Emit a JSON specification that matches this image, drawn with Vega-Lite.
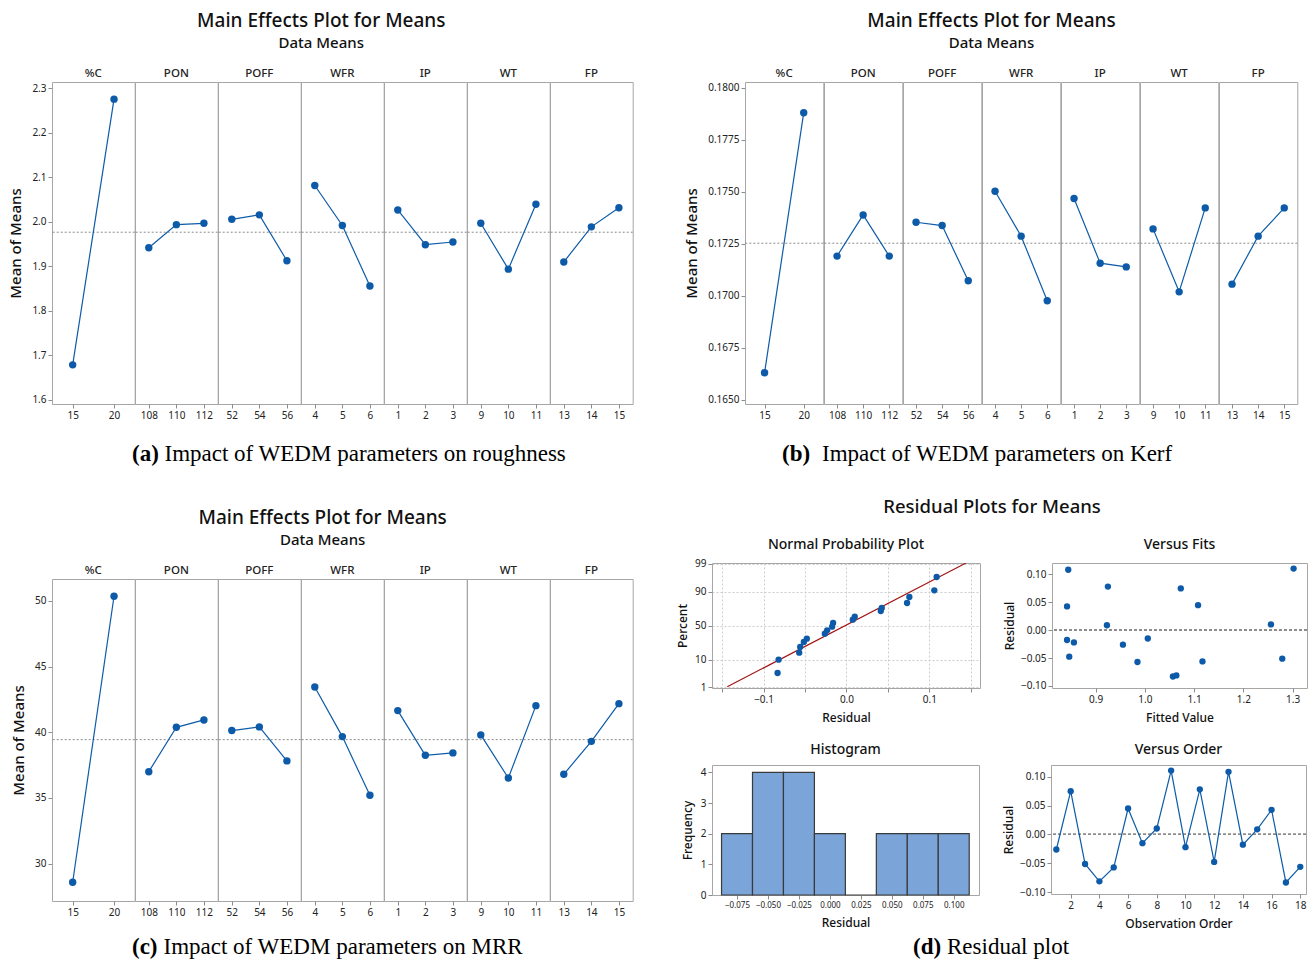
{
  "$schema": "https://vega.github.io/schema/vega-lite/v6.json",
  "background": "white",
  "padding": {"left": 8, "top": 12, "right": 2, "bottom": 2},
  "config": {
    "font": "Noto Sans",
    "view": {"stroke": "#a6a6a6", "strokeWidth": 1},
    "axis": {"labelFont": "Noto Sans", "titleFont": "Noto Sans", "labelColor": "#222222", "titleColor": "#111111", "tickColor": "#8c8c8c", "domain": false, "grid": false, "labelFontSize": 10, "titleFontSize": 12, "titleFontWeight": 500, "tickSize": 4, "labelPadding": 2, "tickCount": 20},
    "axisX": {"titlePadding": 8},
    "title": {"font": "Noto Sans", "fontWeight": 500, "color": "#111111", "subtitleFont": "Noto Sans", "subtitleColor": "#111111", "subtitleFontWeight": 500}
  },
  "datasets": {
    "factors": [{"factor": "%C"}, {"factor": "PON"}, {"factor": "POFF"}, {"factor": "WFR"}, {"factor": "IP"}, {"factor": "WT"}, {"factor": "FP"}],
    "rough": [
      {"factor": "%C", "level": 15, "mean": 1.678, "grand": 1.976},
      {"factor": "%C", "level": 20, "mean": 2.275, "grand": 1.976},
      {"factor": "PON", "level": 108, "mean": 1.941, "grand": 1.976},
      {"factor": "PON", "level": 110, "mean": 1.993, "grand": 1.976},
      {"factor": "PON", "level": 112, "mean": 1.996, "grand": 1.976},
      {"factor": "POFF", "level": 52, "mean": 2.005, "grand": 1.976},
      {"factor": "POFF", "level": 54, "mean": 2.015, "grand": 1.976},
      {"factor": "POFF", "level": 56, "mean": 1.912, "grand": 1.976},
      {"factor": "WFR", "level": 4, "mean": 2.081, "grand": 1.976},
      {"factor": "WFR", "level": 5, "mean": 1.991, "grand": 1.976},
      {"factor": "WFR", "level": 6, "mean": 1.855, "grand": 1.976},
      {"factor": "IP", "level": 1, "mean": 2.026, "grand": 1.976},
      {"factor": "IP", "level": 2, "mean": 1.948, "grand": 1.976},
      {"factor": "IP", "level": 3, "mean": 1.954, "grand": 1.976},
      {"factor": "WT", "level": 9, "mean": 1.996, "grand": 1.976},
      {"factor": "WT", "level": 10, "mean": 1.893, "grand": 1.976},
      {"factor": "WT", "level": 11, "mean": 2.039, "grand": 1.976},
      {"factor": "FP", "level": 13, "mean": 1.909, "grand": 1.976},
      {"factor": "FP", "level": 14, "mean": 1.988, "grand": 1.976},
      {"factor": "FP", "level": 15, "mean": 2.031, "grand": 1.976}
    ],
    "kerf": [
      {"factor": "%C", "level": 15, "mean": 0.16630, "grand": 0.17253},
      {"factor": "%C", "level": 20, "mean": 0.17881, "grand": 0.17253},
      {"factor": "PON", "level": 108, "mean": 0.17191, "grand": 0.17253},
      {"factor": "PON", "level": 110, "mean": 0.17389, "grand": 0.17253},
      {"factor": "PON", "level": 112, "mean": 0.17191, "grand": 0.17253},
      {"factor": "POFF", "level": 52, "mean": 0.17354, "grand": 0.17253},
      {"factor": "POFF", "level": 54, "mean": 0.17338, "grand": 0.17253},
      {"factor": "POFF", "level": 56, "mean": 0.17072, "grand": 0.17253},
      {"factor": "WFR", "level": 4, "mean": 0.17503, "grand": 0.17253},
      {"factor": "WFR", "level": 5, "mean": 0.17287, "grand": 0.17253},
      {"factor": "WFR", "level": 6, "mean": 0.16976, "grand": 0.17253},
      {"factor": "IP", "level": 1, "mean": 0.17468, "grand": 0.17253},
      {"factor": "IP", "level": 2, "mean": 0.17157, "grand": 0.17253},
      {"factor": "IP", "level": 3, "mean": 0.17139, "grand": 0.17253},
      {"factor": "WT", "level": 9, "mean": 0.17322, "grand": 0.17253},
      {"factor": "WT", "level": 10, "mean": 0.17019, "grand": 0.17253},
      {"factor": "WT", "level": 11, "mean": 0.17423, "grand": 0.17253},
      {"factor": "FP", "level": 13, "mean": 0.17056, "grand": 0.17253},
      {"factor": "FP", "level": 14, "mean": 0.17287, "grand": 0.17253},
      {"factor": "FP", "level": 15, "mean": 0.17423, "grand": 0.17253}
    ],
    "mrr": [
      {"factor": "%C", "level": 15, "mean": 28.58, "grand": 39.44},
      {"factor": "%C", "level": 20, "mean": 50.36, "grand": 39.44},
      {"factor": "PON", "level": 108, "mean": 37.0, "grand": 39.44},
      {"factor": "PON", "level": 110, "mean": 40.38, "grand": 39.44},
      {"factor": "PON", "level": 112, "mean": 40.94, "grand": 39.44},
      {"factor": "POFF", "level": 52, "mean": 40.13, "grand": 39.44},
      {"factor": "POFF", "level": 54, "mean": 40.41, "grand": 39.44},
      {"factor": "POFF", "level": 56, "mean": 37.82, "grand": 39.44},
      {"factor": "WFR", "level": 4, "mean": 43.45, "grand": 39.44},
      {"factor": "WFR", "level": 5, "mean": 39.67, "grand": 39.44},
      {"factor": "WFR", "level": 6, "mean": 35.2, "grand": 39.44},
      {"factor": "IP", "level": 1, "mean": 41.65, "grand": 39.44},
      {"factor": "IP", "level": 2, "mean": 38.25, "grand": 39.44},
      {"factor": "IP", "level": 3, "mean": 38.43, "grand": 39.44},
      {"factor": "WT", "level": 9, "mean": 39.8, "grand": 39.44},
      {"factor": "WT", "level": 10, "mean": 36.52, "grand": 39.44},
      {"factor": "WT", "level": 11, "mean": 42.03, "grand": 39.44},
      {"factor": "FP", "level": 13, "mean": 36.8, "grand": 39.44},
      {"factor": "FP", "level": 14, "mean": 39.31, "grand": 39.44},
      {"factor": "FP", "level": 15, "mean": 42.18, "grand": 39.44}
    ],
    "resid": [
      {"obs": 1, "fit": 0.9555, "resid": -0.026},
      {"obs": 2, "fit": 1.073, "resid": 0.0748},
      {"obs": 3, "fit": 1.279, "resid": -0.051},
      {"obs": 4, "fit": 1.064, "resid": -0.081},
      {"obs": 5, "fit": 0.985, "resid": -0.057},
      {"obs": 6, "fit": 1.108, "resid": 0.0448},
      {"obs": 7, "fit": 1.006, "resid": -0.015},
      {"obs": 8, "fit": 1.256, "resid": 0.0103},
      {"obs": 9, "fit": 1.302, "resid": 0.1103},
      {"obs": 10, "fit": 0.856, "resid": -0.022},
      {"obs": 11, "fit": 0.925, "resid": 0.078},
      {"obs": 12, "fit": 0.8465, "resid": -0.0475},
      {"obs": 13, "fit": 0.8445, "resid": 0.1082},
      {"obs": 14, "fit": 0.842, "resid": -0.0176},
      {"obs": 15, "fit": 0.923, "resid": 0.0088},
      {"obs": 16, "fit": 0.842, "resid": 0.0425},
      {"obs": 17, "fit": 1.057, "resid": -0.083},
      {"obs": 18, "fit": 1.117, "resid": -0.056}
    ],
    "npp": [
      {"resid": -0.0831, "z": -1.784}, {"resid": -0.0819, "z": -1.281}, {"resid": -0.057, "z": -1.018},
      {"resid": -0.0558, "z": -0.804}, {"resid": -0.0514, "z": -0.616}, {"resid": -0.0478, "z": -0.49},
      {"resid": -0.0261, "z": -0.302}, {"resid": -0.0233, "z": -0.176}, {"resid": -0.0173, "z": -0.038},
      {"resid": -0.0161, "z": 0.1}, {"resid": 0.0076, "z": 0.226}, {"resid": 0.01, "z": 0.339},
      {"resid": 0.0414, "z": 0.553}, {"resid": 0.0426, "z": 0.666}, {"resid": 0.0731, "z": 0.854},
      {"resid": 0.0759, "z": 1.08}, {"resid": 0.106, "z": 1.332}, {"resid": 0.1088, "z": 1.834}
    ],
    "nppline": [{"resid": -0.1438, "z": -2.3}, {"resid": 0.1442, "z": 2.36}],
    "hist": [
      {"lo": -0.0875, "hi": -0.0625, "count": 2},
      {"lo": -0.0625, "hi": -0.0375, "count": 4},
      {"lo": -0.0375, "hi": -0.0125, "count": 4},
      {"lo": -0.0125, "hi": 0.0125, "count": 2},
      {"lo": 0.0125, "hi": 0.0375, "count": 0},
      {"lo": 0.0375, "hi": 0.0625, "count": 2},
      {"lo": 0.0625, "hi": 0.0875, "count": 2},
      {"lo": 0.0875, "hi": 0.1125, "count": 2}
    ]
  },
  "vconcat": [
    {
      "hconcat": [
        {
          "title": {"text": "Main Effects Plot for Means", "subtitle": "Data Means", "fontSize": 19, "subtitleFontSize": 15, "frame": "bounds", "anchor": "middle", "offset": 15, "subtitlePadding": 5},
          "vconcat": [
            {
              "vconcat": [
                {
                  "data": {"name": "factors"},
                  "facet": {"column": {"field": "factor", "type": "nominal", "sort": ["%C", "PON", "POFF", "WFR", "IP", "WT", "FP"], "header": null}},
                  "spacing": 0, "bounds": "flush",
                  "spec": {"width": 82.7, "height": 15, "mark": {"type": "text", "fontSize": 11.5, "fontWeight": 500, "color": "#222222"}, "encoding": {"text": {"field": "factor", "type": "nominal"}}}
                },
                {
                  "data": {"name": "rough"},
                  "facet": {"column": {"field": "factor", "type": "nominal", "sort": ["%C", "PON", "POFF", "WFR", "IP", "WT", "FP"], "header": null}},
                  "spacing": 0, "bounds": "flush",
                  "resolve": {"scale": {"x": "independent"}},
                  "spec": {
                    "width": 82.7, "height": 322,
                    "layer": [
                      {"mark": {"type": "rule", "color": "#8c8c8c", "strokeDash": [2, 2], "strokeWidth": 1}, "encoding": {"y": {"field": "grand", "aggregate": "max", "type": "quantitative", "title": "Mean of Means"}}},
                      {"mark": {"type": "line", "color": "#0d5ba8", "strokeWidth": 1.2, "point": {"filled": true, "size": 55, "color": "#0d5ba8"}},
                       "encoding": {
                         "x": {"field": "level", "type": "ordinal", "scale": {"type": "point", "padding": 0.5}, "axis": {"title": null, "labelAngle": 0}},
                         "y": {"field": "mean", "type": "quantitative", "title": "Mean of Means", "scale": {"domain": [1.59, 2.3135], "nice": false, "zero": false}, "axis": {"values": [1.6, 1.7, 1.8, 1.9, 2.0, 2.1, 2.2, 2.3], "format": ".1f", "titleFontSize": 15, "titlePadding": 8}}
                       }}
                    ]
                  }
                }
              ],
              "spacing": 0
            },
            {
              "width": 579, "height": 30, "view": {"stroke": null},
              "data": {"values": [{"tag": "(a)", "text": "Impact of WEDM parameters on roughness"}]},
              "layer": [
                {"mark": {"type": "text", "font": "Liberation Serif", "fontSize": 23, "fontWeight": "bold", "align": "left", "dx": -209.5, "color": "#000000"}, "encoding": {"text": {"field": "tag"}}},
                {"mark": {"type": "text", "font": "Liberation Serif", "fontSize": 23, "align": "left", "dx": -177, "color": "#000000"}, "encoding": {"text": {"field": "text"}}}
              ]
            }
          ],
          "spacing": 18
        },
        {
          "title": {"text": "Main Effects Plot for Means", "subtitle": "Data Means", "fontSize": 19, "subtitleFontSize": 15, "frame": "bounds", "anchor": "middle", "offset": 15, "subtitlePadding": 5},
          "vconcat": [
            {
              "vconcat": [
                {
                  "data": {"name": "factors"},
                  "facet": {"column": {"field": "factor", "type": "nominal", "sort": ["%C", "PON", "POFF", "WFR", "IP", "WT", "FP"], "header": null}},
                  "spacing": 0, "bounds": "flush",
                  "spec": {"width": 78.3, "height": 15, "mark": {"type": "text", "fontSize": 11.5, "fontWeight": 500, "color": "#222222"}, "encoding": {"text": {"field": "factor", "type": "nominal"}}}
                },
                {
                  "data": {"name": "kerf"},
                  "facet": {"column": {"field": "factor", "type": "nominal", "sort": ["%C", "PON", "POFF", "WFR", "IP", "WT", "FP"], "header": null}},
                  "spacing": 0, "bounds": "flush",
                  "resolve": {"scale": {"x": "independent"}},
                  "spec": {
                    "width": 78.3, "height": 322,
                    "layer": [
                      {"mark": {"type": "rule", "color": "#8c8c8c", "strokeDash": [2, 2], "strokeWidth": 1}, "encoding": {"y": {"field": "grand", "aggregate": "max", "type": "quantitative", "title": "Mean of Means"}}},
                      {"mark": {"type": "line", "color": "#0d5ba8", "strokeWidth": 1.2, "point": {"filled": true, "size": 55, "color": "#0d5ba8"}},
                       "encoding": {
                         "x": {"field": "level", "type": "ordinal", "scale": {"type": "point", "padding": 0.5}, "axis": {"title": null, "labelAngle": 0}},
                         "y": {"field": "mean", "type": "quantitative", "title": "Mean of Means", "scale": {"domain": [0.164793, 0.180288], "nice": false, "zero": false}, "axis": {"values": [0.165, 0.1675, 0.17, 0.1725, 0.175, 0.1775, 0.18], "format": ".4f", "titleFontSize": 15, "titlePadding": 8}}
                       }}
                    ]
                  }
                }
              ],
              "spacing": 0
            },
            {
              "width": 548, "height": 30, "view": {"stroke": null},
              "data": {"values": [{"tag": "(b)", "text": "Impact of WEDM parameters on Kerf"}]},
              "layer": [
                {"mark": {"type": "text", "font": "Liberation Serif", "fontSize": 23, "fontWeight": "bold", "align": "left", "dx": -237, "color": "#000000"}, "encoding": {"text": {"field": "tag"}}},
                {"mark": {"type": "text", "font": "Liberation Serif", "fontSize": 23, "align": "left", "dx": -197, "color": "#000000"}, "encoding": {"text": {"field": "text"}}}
              ]
            }
          ],
          "spacing": 18
        }
      ],
      "spacing": 50
    },
    {
      "hconcat": [
        {
          "title": {"text": "Main Effects Plot for Means", "subtitle": "Data Means", "fontSize": 19, "subtitleFontSize": 15, "frame": "bounds", "anchor": "middle", "offset": 15, "subtitlePadding": 5},
          "vconcat": [
            {
              "vconcat": [
                {
                  "data": {"name": "factors"},
                  "facet": {"column": {"field": "factor", "type": "nominal", "sort": ["%C", "PON", "POFF", "WFR", "IP", "WT", "FP"], "header": null}},
                  "spacing": 0, "bounds": "flush",
                  "spec": {"width": 82.7, "height": 15, "mark": {"type": "text", "fontSize": 11.5, "fontWeight": 500, "color": "#222222"}, "encoding": {"text": {"field": "factor", "type": "nominal"}}}
                },
                {
                  "data": {"name": "mrr"},
                  "facet": {"column": {"field": "factor", "type": "nominal", "sort": ["%C", "PON", "POFF", "WFR", "IP", "WT", "FP"], "header": null}},
                  "spacing": 0, "bounds": "flush",
                  "resolve": {"scale": {"x": "independent"}},
                  "spec": {
                    "width": 82.7, "height": 322,
                    "layer": [
                      {"mark": {"type": "rule", "color": "#8c8c8c", "strokeDash": [2, 2], "strokeWidth": 1}, "encoding": {"y": {"field": "grand", "aggregate": "max", "type": "quantitative", "title": "Mean of Means"}}},
                      {"mark": {"type": "line", "color": "#0d5ba8", "strokeWidth": 1.2, "point": {"filled": true, "size": 55, "color": "#0d5ba8"}},
                       "encoding": {
                         "x": {"field": "level", "type": "ordinal", "scale": {"type": "point", "padding": 0.5}, "axis": {"title": null, "labelAngle": 0}},
                         "y": {"field": "mean", "type": "quantitative", "title": "Mean of Means", "scale": {"domain": [27.15, 51.675], "nice": false, "zero": false}, "axis": {"values": [30, 35, 40, 45, 50], "titleFontSize": 15, "titlePadding": 8}}
                       }}
                    ]
                  }
                }
              ],
              "spacing": 0
            },
            {
              "width": 579, "height": 30, "view": {"stroke": null},
              "data": {"values": [{"tag": "(c)", "text": "Impact of WEDM parameters on MRR"}]},
              "layer": [
                {"mark": {"type": "text", "font": "Liberation Serif", "fontSize": 23, "fontWeight": "bold", "align": "left", "dx": -209.5, "color": "#000000"}, "encoding": {"text": {"field": "tag"}}},
                {"mark": {"type": "text", "font": "Liberation Serif", "fontSize": 23, "align": "left", "dx": -178, "color": "#000000"}, "encoding": {"text": {"field": "text"}}}
              ]
            }
          ],
          "spacing": 14
        },
        {
          "title": {"text": "Residual Plots for Means", "fontSize": 18.5, "frame": "bounds", "anchor": "middle", "offset": 21},
          "vconcat": [
            {
              "vconcat": [
                {
                  "hconcat": [
                    {
                      "title": {"text": "Normal Probability Plot", "fontSize": 14, "offset": 7},
                      "width": 268, "height": 125,
                      "layer": [
                        {"data": {"name": "nppline"}, "mark": {"type": "line", "color": "#a31515", "strokeWidth": 1.2, "clip": true},
                         "encoding": {
                           "x": {"field": "resid", "type": "quantitative", "title": "Residual", "scale": {"domain": [-0.1622, 0.1611], "nice": false, "zero": false}, "axis": {"values": [-0.15, -0.1, -0.05, 0, 0.05, 0.1, 0.15], "tickCount": 20, "grid": true, "gridDash": [2, 2], "gridColor": "#cccccc", "labelExpr": "abs(datum.value) > 0.12 || (abs(datum.value) > 0.02 && abs(datum.value) < 0.08) ? '' : format(datum.value, '.1f')"}},
                           "y": {"field": "z", "type": "quantitative", "title": "Percent", "scale": {"domain": [-2.349, 2.362], "nice": false, "zero": false}, "axis": {"values": [-2.326, -1.2816, 0, 1.2816, 2.326], "tickCount": 20, "grid": true, "gridDash": [2, 2], "gridColor": "#cccccc", "titlePadding": 5, "labelOverlap": false, "labelExpr": "datum.value < -2 ? '1' : datum.value < -1 ? '10' : datum.value < 1 ? '50' : datum.value < 2 ? '90' : '99'"}}
                         }},
                        {"data": {"name": "npp"}, "mark": {"type": "point", "filled": true, "size": 40, "color": "#0d5ba8", "opacity": 1},
                         "encoding": {
                           "x": {"field": "resid", "type": "quantitative", "title": "Residual"},
                           "y": {"field": "z", "type": "quantitative", "title": "Percent"}
                         }}
                      ]
                    },
                    {
                      "title": {"text": "Versus Fits", "fontSize": 14, "offset": 11},
                      "width": 255, "height": 125,
                      "data": {"name": "resid"},
                      "layer": [
                        {"mark": {"type": "rule", "color": "#8c8c8c", "strokeDash": [3, 2]}, "encoding": {"y": {"datum": 0, "type": "quantitative"}}},
                        {"mark": {"type": "point", "filled": true, "size": 40, "color": "#0d5ba8", "opacity": 1},
                         "encoding": {
                           "x": {"field": "fit", "type": "quantitative", "title": "Fitted Value", "scale": {"domain": [0.8115, 1.3292], "nice": false, "zero": false}, "axis": {"values": [0.9, 1.0, 1.1, 1.2, 1.3], "tickCount": 20, "format": ".1f"}},
                           "y": {"field": "resid", "type": "quantitative", "title": "Residual", "scale": {"domain": [-0.1036, 0.1203], "nice": false, "zero": false}, "axis": {"values": [-0.1, -0.05, 0, 0.05, 0.1], "tickCount": 20, "format": ".2f", "titlePadding": 4}}
                         }}
                      ]
                    }
                  ],
                  "spacing": 21
                },
                {
                  "hconcat": [
                    {
                      "title": {"text": "Histogram", "fontSize": 14, "offset": 8},
                      "width": 267, "height": 130,
                      "data": {"name": "hist"},
                      "mark": {"type": "bar", "fill": "#7ba4d8", "stroke": "#3a3a3a", "strokeWidth": 1.2},
                      "encoding": {
                        "x": {"field": "lo", "type": "quantitative", "title": "Residual", "scale": {"domain": [-0.0952, 0.1204], "nice": false, "zero": false}, "axis": {"values": [-0.075, -0.05, -0.025, 0, 0.025, 0.05, 0.075, 0.1], "tickCount": 20, "format": ".3f", "labelFontSize": 8}},
                        "x2": {"field": "hi"},
                        "y": {"field": "count", "type": "quantitative", "title": "Frequency", "scale": {"domain": [0, 4.24], "nice": false}, "axis": {"values": [0, 1, 2, 3, 4], "tickCount": 20, "format": "d", "titlePadding": 6}},
                        "y2": {"datum": 0}
                      }
                    },
                    {
                      "title": {"text": "Versus Order", "fontSize": 14, "offset": 8},
                      "width": 255, "height": 129,
                      "data": {"name": "resid"},
                      "layer": [
                        {"mark": {"type": "rule", "color": "#8c8c8c", "strokeDash": [3, 2]}, "encoding": {"y": {"datum": 0, "type": "quantitative"}}},
                        {"mark": {"type": "line", "color": "#0d5ba8", "strokeWidth": 1.2, "point": {"filled": true, "size": 40, "color": "#0d5ba8"}},
                         "encoding": {
                           "x": {"field": "obs", "type": "quantitative", "title": "Observation Order", "scale": {"domain": [0.627, 18.4], "nice": false, "zero": false}, "axis": {"values": [2, 4, 6, 8, 10, 12, 14, 16, 18], "tickCount": 20, "format": "d"}},
                           "y": {"field": "resid", "type": "quantitative", "title": "Residual", "scale": {"domain": [-0.1029, 0.12], "nice": false, "zero": false}, "axis": {"values": [-0.1, -0.05, 0, 0.05, 0.1], "tickCount": 20, "format": ".2f", "titlePadding": 4}}
                         }}
                      ]
                    }
                  ],
                  "spacing": 21
                }
              ],
              "spacing": 18
            },
            {
              "width": 596, "height": 34, "view": {"stroke": null},
              "data": {"values": [{"tag": "(d)", "text": "Residual plot"}]},
              "layer": [
                {"mark": {"type": "text", "font": "Liberation Serif", "fontSize": 23, "fontWeight": "bold", "align": "left", "dx": -97, "color": "#000000"}, "encoding": {"text": {"field": "tag"}}},
                {"mark": {"type": "text", "font": "Liberation Serif", "fontSize": 23, "align": "left", "dx": -63, "color": "#000000"}, "encoding": {"text": {"field": "text"}}}
              ]
            }
          ],
          "spacing": 0
        }
      ],
      "spacing": 42
    }
  ],
  "spacing": 28
}
